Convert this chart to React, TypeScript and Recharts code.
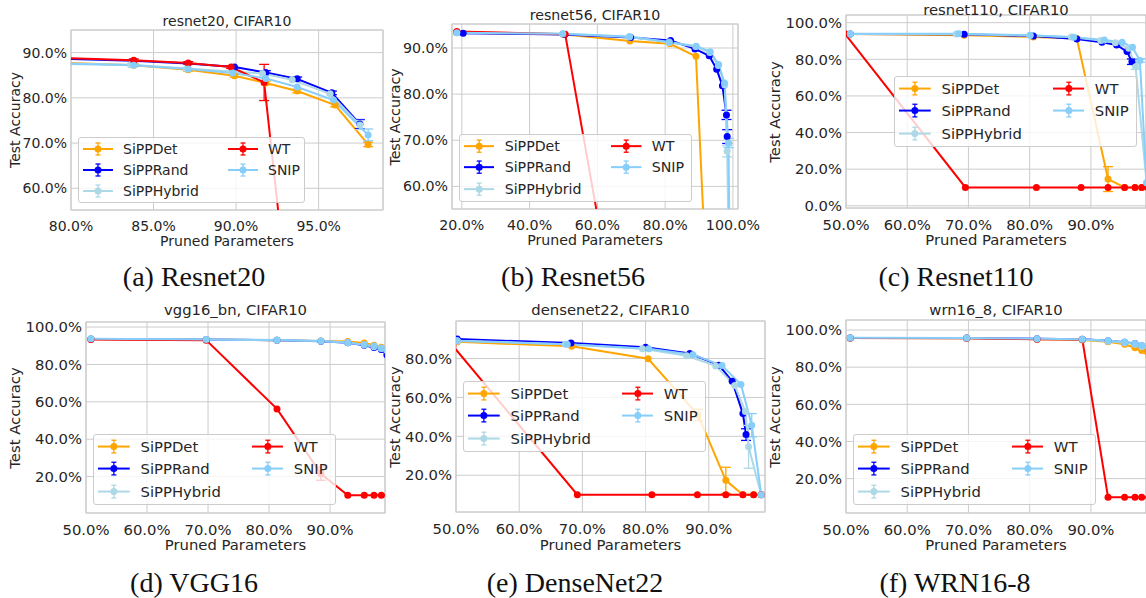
import React from "react";
import { LineChart, Line, XAxis, YAxis, CartesianGrid, ErrorBar, ReferenceArea } from "recharts";

// [pruned %, accuracy %, std]
type Pt = [number, number, number?];

const SERIES = [
  { name: "SiPPDet", color: "#ffa500" },
  { name: "SiPPRand", color: "#0000ff" },
  { name: "SiPPHybrid", color: "#add8e6" },
  { name: "WT", color: "#ff0000" },
  { name: "SNIP", color: "#87cefa" },
];

// resnet20
const R20_DET: Pt[] = [[69.7, 89.0], [83.8, 87.2, 0.3], [87.1, 86.2, 0.3], [89.9, 84.9, 0.3], [91.8, 83.3, 0.4], [93.7, 81.5, 0.4], [96.0, 78.4, 0.4], [98.0, 69.7, 0.5]];
const R20_RAND: Pt[] = [[69.7, 89.6], [83.8, 88.2], [87.1, 87.6], [89.9, 86.8], [91.8, 85.6, 0.4], [93.7, 84.2, 0.4], [95.8, 81.1, 0.4], [97.5, 74.2, 1.0]];
const R20_HYB: Pt[] = [[69.7, 88.5], [83.6, 87.3], [87.0, 86.5], [89.7, 85.8], [91.6, 85.4], [93.4, 84.0], [95.7, 80.9], [97.5, 74.0, 1.0]];
const R20_WT: Pt[] = [[69.7, 89.9], [83.8, 88.3, 0.3], [87.1, 87.7, 0.3], [89.7, 86.8, 0.3], [91.7, 83.4, 4.0], [93.9, 10], [95.8, 10], [97.5, 10]];
const R20_SNIP: Pt[] = [[69.7, 88.3], [83.8, 87.2], [87.1, 86.4], [89.8, 85.5], [91.8, 84.3], [93.7, 82.4], [95.9, 79.5], [98.0, 71.8, 1.3]];

// resnet56
const R56_DET: Pt[] = [[18.5, 93.3], [49.8, 93.0], [69.6, 91.5], [81.4, 90.9], [89.1, 88.2], [94.0, 10], [96.0, 10], [98.0, 10]];
const R56_RAND: Pt[] = [[18.5, 93.4], [20.4, 93.2], [50.3, 92.9], [69.8, 92.3], [81.6, 91.6], [88.8, 89.8], [93.0, 88.3], [95.2, 85.4], [96.9, 81.8], [98.1, 75.5, 1.0], [98.3, 70.8, 1.5]];
const R56_HYB: Pt[] = [[18.5, 93.4], [49.8, 93.1], [69.4, 92.4], [81.2, 91.2], [89.0, 90.3], [93.2, 89.0], [95.7, 86.2], [97.6, 82.0], [98.3, 67.6, 1.2], [99.5, 10]];
const R56_WT: Pt[] = [[18.5, 93.6], [50.5, 93.0], [70.6, 10], [81.0, 10], [89.0, 10], [94.0, 10], [97.0, 10]];
const R56_SNIP: Pt[] = [[18.5, 93.3], [49.8, 93.1], [69.5, 92.5], [81.2, 91.3], [89.2, 90.4], [93.3, 89.2], [95.8, 86.4], [97.5, 82.4], [98.7, 69.4, 1.0], [99.5, 10]];

// resnet110
const R110_DET: Pt[] = [[50.7, 93.8], [69.3, 93.2], [80.6, 92.2], [87.7, 91.4], [92.8, 14.6, 6.8], [95.5, 10], [97.2, 10], [98.3, 10], [99.3, 10]];
const R110_RAND: Pt[] = [[50.7, 93.8], [69.3, 93.7], [80.6, 92.7], [87.7, 91.1], [91.8, 89.3], [94.2, 87.8], [95.9, 84.2], [96.7, 78.7, 1.5]];
const R110_HYB: Pt[] = [[50.7, 93.8], [68.0, 93.8], [80.0, 93.0], [86.8, 92.2], [91.6, 90.3], [94.0, 89.0], [96.2, 86.0], [97.3, 76.0, 1.5], [99.1, 12.5]];
const R110_WT: Pt[] = [[49.8, 94.0], [69.5, 10], [81.1, 10], [88.4, 10], [92.8, 10], [95.5, 10], [97.2, 10], [98.3, 10], [99.3, 10]];
const R110_SNIP: Pt[] = [[50.7, 93.9], [68.4, 93.9], [80.1, 93.1], [87.2, 92.0], [92.2, 90.5], [95.1, 89.3], [96.8, 86.6], [98.0, 79.4, 1.0], [99.1, 12.6]];

// vgg16_bn
const VGG_DET: Pt[] = [[50.8, 93.6], [69.7, 93.3], [81.3, 93.0], [88.5, 92.6], [92.9, 92.3], [95.6, 91.5], [97.2, 90.3], [98.4, 89.2], [99.5, 87.5]];
const VGG_RAND: Pt[] = [[50.8, 93.6], [69.7, 93.3], [81.3, 92.9], [88.5, 92.4], [92.9, 91.6], [95.6, 90.2], [97.2, 89.0], [98.4, 88.0], [99.3, 85.0]];
const VGG_HYB: Pt[] = [[50.8, 93.6], [69.7, 93.3], [81.3, 93.0], [88.5, 92.5], [92.9, 91.7], [95.6, 90.5], [97.2, 89.5], [98.4, 88.5], [99.3, 87.5]];
const VGG_WT: Pt[] = [[50.8, 93.4], [69.7, 93.0], [81.3, 56.2], [88.5, 21.5, 3.5], [92.9, 10], [95.6, 10], [97.2, 10], [98.4, 10], [99.5, 10]];
const VGG_SNIP: Pt[] = [[50.8, 93.8], [69.7, 93.4], [81.3, 93.1], [88.5, 92.5], [92.9, 91.6], [95.6, 90.5], [97.2, 89.8], [98.4, 88.8], [99.3, 88.0]];

// densenet22
const DN_DET: Pt[] = [[50.2, 88.6], [68.3, 86.3], [80.4, 79.9], [88.3, 51.0, 3.0], [92.7, 17.4, 6.7], [95.4, 10], [97.1, 10], [98.3, 10]];
const DN_RAND: Pt[] = [[50.2, 90.0], [68.2, 88.0], [80.0, 85.8], [87.0, 82.6], [91.6, 76.6], [93.7, 68.3], [95.4, 51.7], [95.9, 40.9, 3.0]];
const DN_HYB: Pt[] = [[50.2, 89.2], [67.3, 87.4], [79.5, 85.0], [86.5, 81.4], [91.1, 76.2], [94.1, 66.1], [95.8, 52.8], [96.3, 34.6, 11.0], [98.3, 10]];
const DN_WT: Pt[] = [[49.5, 86.5], [69.2, 10], [81.0, 10], [88.2, 10], [92.7, 10], [95.4, 10], [97.1, 10], [98.3, 10]];
const DN_SNIP: Pt[] = [[50.2, 89.0], [67.6, 87.4], [80.5, 85.0], [87.5, 82.0], [92.1, 76.4], [95.1, 66.6], [96.8, 45.7, 6.0], [98.3, 10]];

// wrn16_8
const WRN_DET: Pt[] = [[50.7, 95.7], [69.7, 95.6], [81.2, 95.1], [88.6, 94.6], [92.8, 93.7], [95.5, 92.3], [97.2, 90.5], [98.3, 89.0], [99.5, 85.5]];
const WRN_RAND: Pt[] = [[50.7, 95.7], [69.7, 95.7], [81.2, 95.3], [88.6, 95.0], [92.8, 94.2], [95.5, 93.4], [97.2, 92.7], [98.3, 91.5], [99.5, 89.0]];
const WRN_HYB: Pt[] = [[50.7, 95.7], [69.7, 95.6], [81.2, 95.2], [88.6, 94.9], [92.8, 94.0], [95.5, 93.2], [97.2, 92.4], [98.3, 91.2], [99.5, 89.5]];
const WRN_WT: Pt[] = [[50.7, 95.7], [69.7, 95.6], [81.2, 95.0], [88.6, 94.9], [92.8, 10], [95.5, 10], [97.2, 10], [98.3, 10], [99.5, 10]];
const WRN_SNIP: Pt[] = [[50.7, 95.8], [69.7, 95.7], [81.2, 95.3], [88.6, 95.0], [92.8, 94.3], [95.5, 93.5], [97.2, 92.8], [98.3, 91.8], [99.5, 90.0]];

const X_TICKS_R20 = [80, 85, 90, 95];
const X_TICKS_R56 = [20, 40, 60, 80, 100];
const X_TICKS_50 = [50, 60, 70, 80, 90];
const Y_TICKS_R = [60, 70, 80, 90];
const Y_TICKS_0 = [0, 20, 40, 60, 80, 100];
const Y_TICKS_20 = [20, 40, 60, 80, 100];
const Y_TICKS_DN = [20, 40, 60, 80];

const FONT = "'DejaVu Sans', sans-serif";
const TEXT = "#262626";
const GRID = "#cccccc";

const PANELS = [
  {
    title: "resnet20, CIFAR10", caption: "(a) Resnet20", fs: 14,
    plot: { x: 71, y: 30, w: 312, h: 180 }, xDomain: [80, 98.9], yDomain: [55.2, 95],
    xTicks: X_TICKS_R20, yTicks: Y_TICKS_R, titleY: 20.7, xLabelY: 240.7, yLabelX: 15,
    cap: { x: 194, y: 279 }, legend: { x: 78, y: 137, w: 227, h: 66 },
    series: [R20_DET, R20_RAND, R20_HYB, R20_WT, R20_SNIP],
  },
  {
    title: "resnet56, CIFAR10", caption: "(b) Resnet56", fs: 14.2,
    plot: { x: 452, y: 24, w: 286, h: 185 }, xDomain: [17.1, 101.5], yDomain: [55.1, 95.2],
    xTicks: X_TICKS_R56, yTicks: Y_TICKS_R, titleY: 15, xLabelY: 240, yLabelX: 395,
    cap: { x: 573, y: 279 }, legend: { x: 459, y: 134, w: 233, h: 68 },
    series: [R56_DET, R56_RAND, R56_HYB, R56_WT, R56_SNIP],
  },
  {
    title: "resnet110, CIFAR10", caption: "(c) Resnet110", fs: 14.8,
    plot: { x: 846, y: 15, w: 300, h: 193 }, xDomain: [50, 99.0], yDomain: [-1.2, 104.2],
    xTicks: X_TICKS_50, yTicks: Y_TICKS_0, titleY: 9.5, xLabelY: 240, yLabelX: 775,
    cap: { x: 956, y: 279 }, legend: { x: 894, y: 76, w: 243, h: 71 },
    series: [R110_DET, R110_RAND, R110_HYB, R110_WT, R110_SNIP],
  },
  {
    title: "vgg16_bn, CIFAR10", caption: "(d) VGG16", fs: 14.8,
    plot: { x: 86, y: 322, w: 299, h: 191 }, xDomain: [50, 99.0], yDomain: [0.5, 102.7],
    xTicks: X_TICKS_50, yTicks: Y_TICKS_20, titleY: 310, xLabelY: 545, yLabelX: 15,
    cap: { x: 194, y: 585 }, legend: { x: 93, y: 434, w: 243, h: 71 },
    series: [VGG_DET, VGG_RAND, VGG_HYB, VGG_WT, VGG_SNIP],
  },
  {
    title: "densenet22, CIFAR10", caption: "(e) DenseNet22", fs: 14.8,
    plot: { x: 456, y: 321, w: 309, h: 191 }, xDomain: [50, 98.9], yDomain: [1.1, 99.3],
    xTicks: X_TICKS_50, yTicks: Y_TICKS_DN, titleY: 310, xLabelY: 545, yLabelX: 395,
    cap: { x: 575, y: 585 }, legend: { x: 463, y: 381, w: 243, h: 71 },
    series: [DN_DET, DN_RAND, DN_HYB, DN_WT, DN_SNIP],
  },
  {
    title: "wrn16_8, CIFAR10", caption: "(f) WRN16-8", fs: 14.8,
    plot: { x: 846, y: 320, w: 300, h: 193 }, xDomain: [50, 99.0], yDomain: [1.5, 105.4],
    xTicks: X_TICKS_50, yTicks: Y_TICKS_20, titleY: 310, xLabelY: 545, yLabelX: 775,
    cap: { x: 955, y: 585 }, legend: { x: 853, y: 434, w: 243, h: 71 },
    series: [WRN_DET, WRN_RAND, WRN_HYB, WRN_WT, WRN_SNIP],
  },
];

const pct = (v: number) => `${v.toFixed(1)}%`;
const toRows = (pts: Pt[]) => pts.map(([x, y, e]) => ({ x, y, e: e ?? 0 }));

// layout of each chart box around its plot area
const YW = 72;
const MT = 6;
const MR = 30;
const XH = 30;

function LegendBox({ box, fs }: any) {
  const s = fs / 14;
  return (
    <div
      style={{
        position: "absolute", left: box.x, top: box.y, width: box.w, height: box.h,
        boxSizing: "border-box", border: `1px solid ${GRID}`, borderRadius: 3,
        background: "rgba(255,255,255,0.8)", fontFamily: FONT, fontSize: fs, color: TEXT,
      }}
    >
      {SERIES.map((se, i) => {
        const col = i < 3 ? 0 : 1;
        const row = i < 3 ? i : i - 3;
        const left = (col === 0 ? 5 : 150) * s - 1;
        const top = (12 + row * 21) * s - 10 * s - 1;
        const w = 30 * s;
        const h = 20 * s;
        return (
          <div key={se.name} style={{ position: "absolute", left, top, height: h, whiteSpace: "nowrap" }}>
            <svg width={w} height={h} style={{ position: "absolute", left: 0, top: 0 }}>
              <line x1={0} x2={w} y1={h / 2} y2={h / 2} stroke={se.color} strokeWidth={2} />
              <line x1={w / 2} x2={w / 2} y1={h / 2 - 6 * s} y2={h / 2 + 6 * s} stroke={se.color} strokeWidth={1.3} />
              <line x1={w / 2 - 2.5} x2={w / 2 + 2.5} y1={h / 2 - 6 * s} y2={h / 2 - 6 * s} stroke={se.color} strokeWidth={1.3} />
              <line x1={w / 2 - 2.5} x2={w / 2 + 2.5} y1={h / 2 + 6 * s} y2={h / 2 + 6 * s} stroke={se.color} strokeWidth={1.3} />
              <circle cx={w / 2} cy={h / 2} r={3.5} fill={se.color} />
            </svg>
            <span style={{ position: "absolute", left: 40 * s, top: 0, lineHeight: `${h}px` }}>{se.name}</span>
          </div>
        );
      })}
    </div>
  );
}

function Panel({ p }: any) {
  const { plot, fs } = p;
  const tick = { fill: TEXT, fontSize: fs, fontFamily: FONT };
  const label: React.CSSProperties = {
    position: "absolute", fontFamily: FONT, fontSize: fs, color: TEXT, lineHeight: 1,
    whiteSpace: "nowrap", transform: "translate(-50%, -50%)",
  };
  return (
    <>
      <div style={{ position: "absolute", left: plot.x - YW, top: plot.y - MT }}>
        <LineChart
          width={YW + plot.w + MR}
          height={MT + plot.h + XH}
          margin={{ top: MT, right: MR, left: 0, bottom: 0 }}
        >
          <CartesianGrid stroke={GRID} strokeWidth={1} />
          <XAxis
            type="number" dataKey="x" domain={p.xDomain} ticks={p.xTicks} allowDataOverflow
            interval={0} tickFormatter={pct} axisLine={false} tickLine={false} tickSize={0}
            tickMargin={11} height={XH} tick={tick}
          />
          <YAxis
            type="number" domain={p.yDomain} ticks={p.yTicks} allowDataOverflow
            interval={0} tickFormatter={pct} axisLine={false} tickLine={false} tickSize={0}
            tickMargin={4} width={YW} tick={tick}
          />
          <ReferenceArea
            x1={p.xDomain[0]} x2={p.xDomain[1]} y1={p.yDomain[0]} y2={p.yDomain[1]}
            fill="none" fillOpacity={0} stroke={GRID} strokeWidth={1.2}
          />
          {SERIES.map((se, i) => (
            <Line
              key={se.name}
              data={toRows(p.series[i])}
              dataKey="y"
              type="linear"
              stroke={se.color}
              strokeWidth={2}
              dot={{ r: 3.5, fill: se.color, stroke: se.color, strokeWidth: 0 }}
              activeDot={false}
              isAnimationActive={false}
            >
              <ErrorBar dataKey="e" direction="y" width={5} stroke={se.color} strokeWidth={1.3} />
            </Line>
          ))}
        </LineChart>
      </div>
      <div style={{ ...label, left: plot.x + plot.w / 2, top: p.titleY }}>{p.title}</div>
      <div style={{ ...label, left: plot.x + plot.w / 2, top: p.xLabelY }}>Pruned Parameters</div>
      <div style={{ ...label, left: p.yLabelX, top: plot.y + plot.h / 2, transform: "translate(-50%, -50%) rotate(-90deg)" }}>
        Test Accuracy
      </div>
      <LegendBox box={p.legend} fs={fs} />
      <div
        style={{
          position: "absolute", left: p.cap.x, top: p.cap.y - 2.5, transform: "translate(-50%, -50%)",
          fontFamily: "'Liberation Serif', serif", fontSize: 28, lineHeight: 1, color: "#111", whiteSpace: "nowrap",
        }}
      >
        {p.caption}
      </div>
    </>
  );
}

export default function App() {
  return (
    <div style={{ position: "absolute", left: 0, top: 0, width: 1146, height: 598, overflow: "hidden", background: "#fff" }}>
      {PANELS.map((p) => (
        <Panel key={p.title} p={p} />
      ))}
    </div>
  );
}
